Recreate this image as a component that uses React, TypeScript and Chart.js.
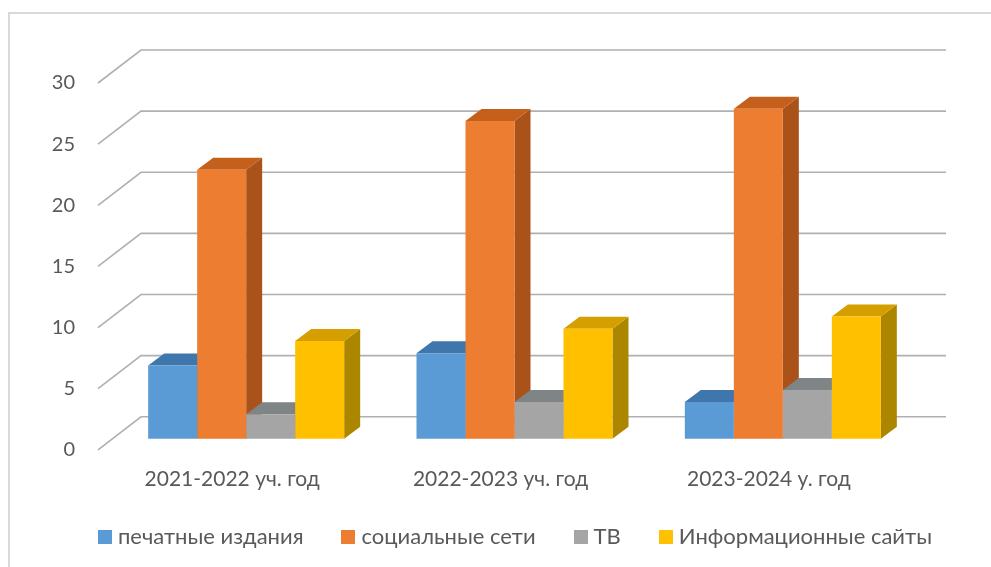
import React, { useEffect, useRef } from "react";
import { Chart, registerables } from "chart.js";

Chart.register(...registerables);

const categories = ["2021-2022 уч. год", "2022-2023 уч. год", "2023-2024 у. год"];
const seriesNames = ["печатные издания", "социальные сети", "ТВ", "Информационные сайты"];
const printMedia = [6, 7, 3];
const socialNetworks = [22, 26, 27];
const tv = [2, 3, 4];
const infoSites = [8, 9, 10];
const frontColors = ["#5b9bd5", "#ed7d31", "#a5a5a5", "#ffc000"];
const topColors = ["#3f76ab", "#c55f1c", "#7f8486", "#d69f00"];
const sideColors = ["#34668f", "#a9531a", "#6e6e6e", "#ad8600"];

const FONT = "Lato, 'Open Sans', sans-serif";
const TEXT = "#595959";
const WALL_DX = 43, WALL_DY = -33;
const BAR_DX = 14, BAR_DY = -11;
const DEPTH_DX = 16, DEPTH_DY = -12;
const LEGEND_SHIFT_X = 22;
const LEGEND_SHIFT_Y = -26;

function legendSwatch(color: string) {
  const c = document.createElement("canvas");
  c.width = 14;
  c.height = 14;
  const g = c.getContext("2d")!;
  g.fillStyle = color;
  g.fillRect(0, 0, 14, 14);
  return c;
}

const scene3d = {
  id: "scene3d",
  afterLayout(chart: any) {
    const l = chart.legend;
    l.left += LEGEND_SHIFT_X;
    l.right += LEGEND_SHIFT_X;
    l.top += LEGEND_SHIFT_Y;
    l.bottom += LEGEND_SHIFT_Y;
  },
  beforeDraw(chart: any) {
    const { ctx, width, height } = chart;
    ctx.save();
    ctx.fillStyle = "#ffffff";
    ctx.fillRect(0, 0, width, height);
    ctx.strokeStyle = "#d9d9d9";
    ctx.lineWidth = 2;
    ctx.beginPath();
    ctx.moveTo(9, height);
    ctx.lineTo(9, 13);
    ctx.lineTo(width, 13);
    ctx.stroke();
    ctx.restore();
  },
  beforeDatasetsDraw(chart: any) {
    const { ctx, chartArea, scales } = chart;
    ctx.save();
    ctx.strokeStyle = "#b0b0b0";
    ctx.lineWidth = 1.6;
    scales.y.ticks.forEach((t: any) => {
      const y = scales.y.getPixelForValue(t.value);
      ctx.beginPath();
      ctx.moveTo(chartArea.left, y);
      ctx.lineTo(chartArea.left + WALL_DX, y + WALL_DY);
      ctx.lineTo(chartArea.right + WALL_DX, y + WALL_DY);
      ctx.stroke();
    });
    ctx.restore();
    // Depth faces go first, left to right; native bars then draw the front faces on top.
    ctx.save();
    ctx.translate(BAR_DX, BAR_DY);
    categories.forEach((_, c) => {
      chart.data.datasets.forEach((_d: any, s: number) => {
        const bar = chart.getDatasetMeta(s).data[c];
        const l = bar.x - bar.width / 2, r = bar.x + bar.width / 2, top = bar.y, base = bar.base;
        ctx.fillStyle = sideColors[s];
        ctx.beginPath();
        ctx.moveTo(r, top);
        ctx.lineTo(r + DEPTH_DX, top + DEPTH_DY);
        ctx.lineTo(r + DEPTH_DX, base + DEPTH_DY);
        ctx.lineTo(r, base);
        ctx.closePath();
        ctx.fill();
        ctx.fillStyle = topColors[s];
        ctx.beginPath();
        ctx.moveTo(l, top);
        ctx.lineTo(l + DEPTH_DX, top + DEPTH_DY);
        ctx.lineTo(r + DEPTH_DX, top + DEPTH_DY);
        ctx.lineTo(r, top);
        ctx.closePath();
        ctx.fill();
      });
    });
    // Left translated for the native bars; restored in afterDatasetsDraw.
  },
  afterDatasetsDraw(chart: any) {
    chart.ctx.restore();
  },
};

export default function App() {
  const ref = useRef<HTMLCanvasElement>(null);
  useEffect(() => {
    const values = [printMedia, socialNetworks, tv, infoSites];
    const swatches = frontColors.map(legendSwatch);
    const chart = new Chart(ref.current!, {
      type: "bar",
      data: {
        labels: categories,
        datasets: seriesNames.map((label, i) => ({
          label,
          data: values[i],
          backgroundColor: frontColors[i],
          borderWidth: 0,
          barPercentage: 1,
          categoryPercentage: 0.7305,
          clip: false as any,
        })),
      },
      options: {
        animation: false,
        responsive: false,
        events: [],
        layout: { padding: { left: 0, right: 0, top: 83, bottom: -17 } },
        scales: {
          x: {
            grid: { display: false, drawTicks: false },
            border: { display: false },
            ticks: { color: TEXT, font: { family: FONT, size: 21 }, padding: 17, maxRotation: 0 },
          },
          y: {
            min: 0,
            max: 30,
            afterFit: (s: any) => { s.width = 98; },
            grid: { display: false, drawTicks: false },
            border: { display: false },
            ticks: { stepSize: 5, color: TEXT, font: { family: FONT, size: 20 }, padding: 23 },
          },
          rightGutter: {
            position: "right",
            afterFit: (s: any) => { s.width = 88; },
            grid: { display: false, drawTicks: false },
            border: { display: false },
            ticks: { display: false },
          },
        },
        plugins: {
          tooltip: { enabled: false },
          title: { display: false },
          legend: {
            position: "bottom",
            labels: {
              color: TEXT,
              font: { family: FONT, size: 22 },
              usePointStyle: true,
              boxWidth: 4,
              boxHeight: 14,
              padding: 43,
              generateLabels: (c: any) =>
                Chart.defaults.plugins.legend.labels.generateLabels(c).map((item: any, i: number) => ({
                  ...item,
                  pointStyle: swatches[i],
                })),
            },
          },
        },
      },
      plugins: [scene3d],
    });
    return () => chart.destroy();
  }, []);
  return (
    <div style={{ position: "fixed", left: 0, top: 0, width: 991, height: 567, background: "#fff" }}>
      <canvas ref={ref} width={991} height={567} style={{ display: "block" }} />
    </div>
  );
}
